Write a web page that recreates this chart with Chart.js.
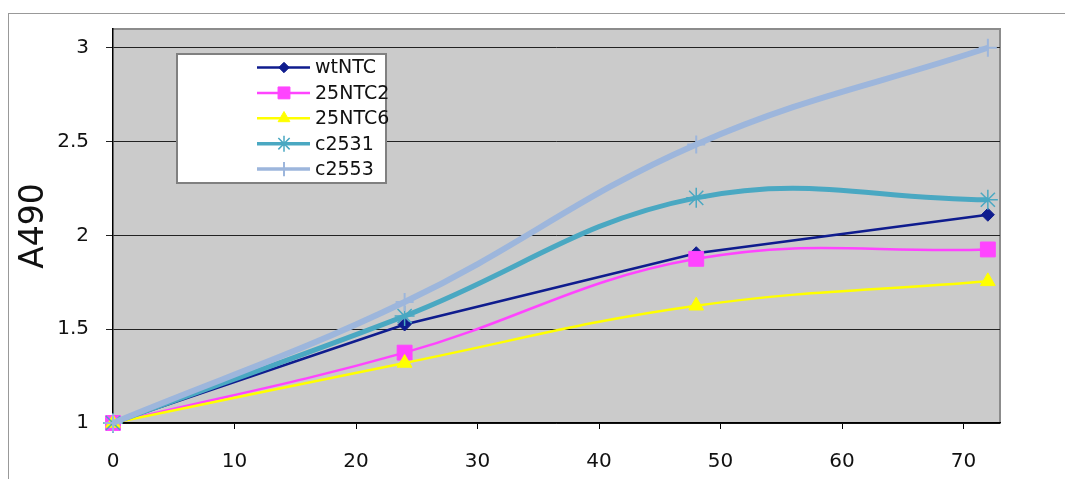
<!DOCTYPE html>
<html>
<head>
<meta charset="utf-8">
<title>A490 time course</title>
<script src="https://cdn.jsdelivr.net/npm/chart.js@4/dist/chart.umd.min.js"></script>
<style>
    html, body { margin: 0; padding: 0; background: #fff; }
    #wrap { position: relative; width: 1065px; height: 479px; overflow: hidden; }
    #frame { position: absolute; left: 8px; top: 13px; width: 1100px; height: 520px;
             border-top: 1px solid #999; border-left: 1px solid #999; }
    canvas { position: absolute; left: 0; top: 0; }
</style>
</head>
<body>
<div id="wrap">
    <div id="frame"></div>
    <canvas id="a490Chart" width="1065" height="479"></canvas>
</div>
<script>
// hours after seeding
const hours = [0, 24, 48, 72];

// A490 readings per line
const wtNTC = [1, 1.525, 1.905, 2.11];
const ntc2 = [1, 1.375, 1.875, 1.925];
const ntc6 = [1, 1.32, 1.625, 1.755];
const c2531 = [1, 1.57, 2.2, 2.19];
const c2553 = [1, 1.645, 2.485, 3.0];

const seriesNames = ['wtNTC', '25NTC2', '25NTC6', 'c2531', 'c2553'];
const seriesValues = [wtNTC, ntc2, ntc6, c2531, c2553];

const xTicks = [0, 10, 20, 30, 40, 50, 60, 70];
const yTicks = [1, 1.5, 2, 2.5, 3];

const styles = [
    { color: '#0f1c8e', width: 2.5, tension: 0,   pointStyle: 'rectRot',  radius: 6.5, pointWidth: 1 },
    { color: '#ff44ff', width: 2.5, tension: 0.4, pointStyle: 'rect',     radius: 10.5, pointWidth: 1 },
    { color: '#ffff00', width: 2.5, tension: 0.4, pointStyle: 'triangle', radius: 8.5, pointWidth: 1 },
    { color: '#4aa8c2', width: 5,   tension: 0.4, pointStyle: 'star',     radius: 10,  pointWidth: 1.5 },
    { color: '#9db6dc', width: 6,   tension: 0.4, pointStyle: 'cross',    radius: 9,   pointWidth: 2 }
];

const datasets = seriesNames.map((name, i) => ({
    label: name,
    data: hours.map((h, j) => ({ x: h, y: seriesValues[i][j] })),
    borderColor: styles[i].color,
    backgroundColor: styles[i].color,
    borderWidth: styles[i].width,
    tension: styles[i].tension,
    pointStyle: styles[i].pointStyle,
    pointRadius: styles[i].radius,
    pointBorderWidth: styles[i].pointWidth,
    pointBorderColor: styles[i].color,
    pointBackgroundColor: styles[i].color,
    order: seriesNames.length - 1 - i,   // later series sit on top
    clip: false
}));

const plotBackground = {
    id: 'plotBackground',
    beforeDraw(chart) {
        const { ctx, chartArea: a } = chart;
        ctx.save();
        ctx.fillStyle = '#cbcbcb';
        ctx.fillRect(a.left, a.top, a.right - a.left, a.bottom - a.top);
        ctx.strokeStyle = '#8c8c8c';
        ctx.lineWidth = 2;
        ctx.beginPath();
        ctx.moveTo(a.left, a.top);
        ctx.lineTo(a.right, a.top);
        ctx.lineTo(a.right, a.bottom);
        ctx.stroke();
        ctx.restore();
    }
};

// boxed legend inside the plot, upper left
const boxLegend = {
    id: 'boxLegend',
    afterDraw(chart) {
        const { ctx, chartArea: a } = chart;
        const x = a.left + 64, y = a.top + 25, w = 209, h = 129;
        ctx.save();
        ctx.fillStyle = '#fff';
        ctx.fillRect(x, y, w, h);
        ctx.strokeStyle = '#808080';
        ctx.lineWidth = 2;
        ctx.strokeRect(x, y, w, h);

        ctx.font = '19px "DejaVu Sans"';
        ctx.textBaseline = 'middle';
        ctx.textAlign = 'left';
        chart.data.datasets.forEach((ds, i) => {
            const rowY = y + 13.5 + i * 25.4;
            ctx.strokeStyle = ds.borderColor;
            ctx.lineWidth = Math.min(ds.borderWidth, 3.5);
            ctx.beginPath();
            ctx.moveTo(x + 80, rowY);
            ctx.lineTo(x + 133, rowY);
            ctx.stroke();

            ctx.fillStyle = ds.pointBackgroundColor;
            ctx.strokeStyle = ds.pointBorderColor;
            ctx.lineWidth = ds.pointBorderWidth;
            const opts = { pointStyle: ds.pointStyle, rotation: 0, radius: ds.pointRadius * 0.8, borderWidth: ds.pointBorderWidth };
            if (Chart.helpers && Chart.helpers.drawPoint) {
                Chart.helpers.drawPoint(ctx, opts, x + 107, rowY);
            }

            ctx.fillStyle = '#111';
            ctx.fillText(ds.label, x + 138, rowY + 1);
        });
        ctx.restore();
    }
};

const tickFont = { family: '"DejaVu Sans"', size: 20 };

new Chart(document.getElementById('a490Chart'), {
    type: 'line',
    data: { datasets: datasets },
    options: {
        responsive: false,
        animation: false,
        layout: { padding: { left: 0, top: 26, right: 65, bottom: 0 } },
        plugins: {
            legend: { display: false },
            tooltip: { enabled: false }
        },
        scales: {
            x: {
                type: 'linear',
                min: 0,
                max: 73,
                afterBuildTicks: axis => { axis.ticks = xTicks.map(v => ({ value: v })); },
                afterFit: axis => { axis.height = 56; },
                grid: { drawOnChartArea: false, drawTicks: true, tickLength: 6, tickColor: '#000' },
                border: { color: '#000', width: 1.5 },
                ticks: { color: '#111', font: tickFont, padding: 21, maxRotation: 0 }
            },
            y: {
                type: 'linear',
                min: 1,
                max: 3.1,
                afterBuildTicks: axis => { axis.ticks = yTicks.map(v => ({ value: v })); },
                afterFit: axis => { axis.width = 113; },
                grid: { color: '#222', lineWidth: 1, drawTicks: true, tickLength: 7, tickColor: '#222' },
                border: { color: '#000', width: 1.5 },
                ticks: { color: '#111', font: tickFont, padding: 17, callback: v => String(v) },
                title: {
                    display: true,
                    text: 'A490',
                    color: '#111',
                    font: { family: '"DejaVu Sans"', size: 33 },
                    padding: { top: 15, bottom: 0 }
                }
            }
        }
    },
    plugins: [plotBackground, boxLegend]
});
</script>
</body>
</html>
